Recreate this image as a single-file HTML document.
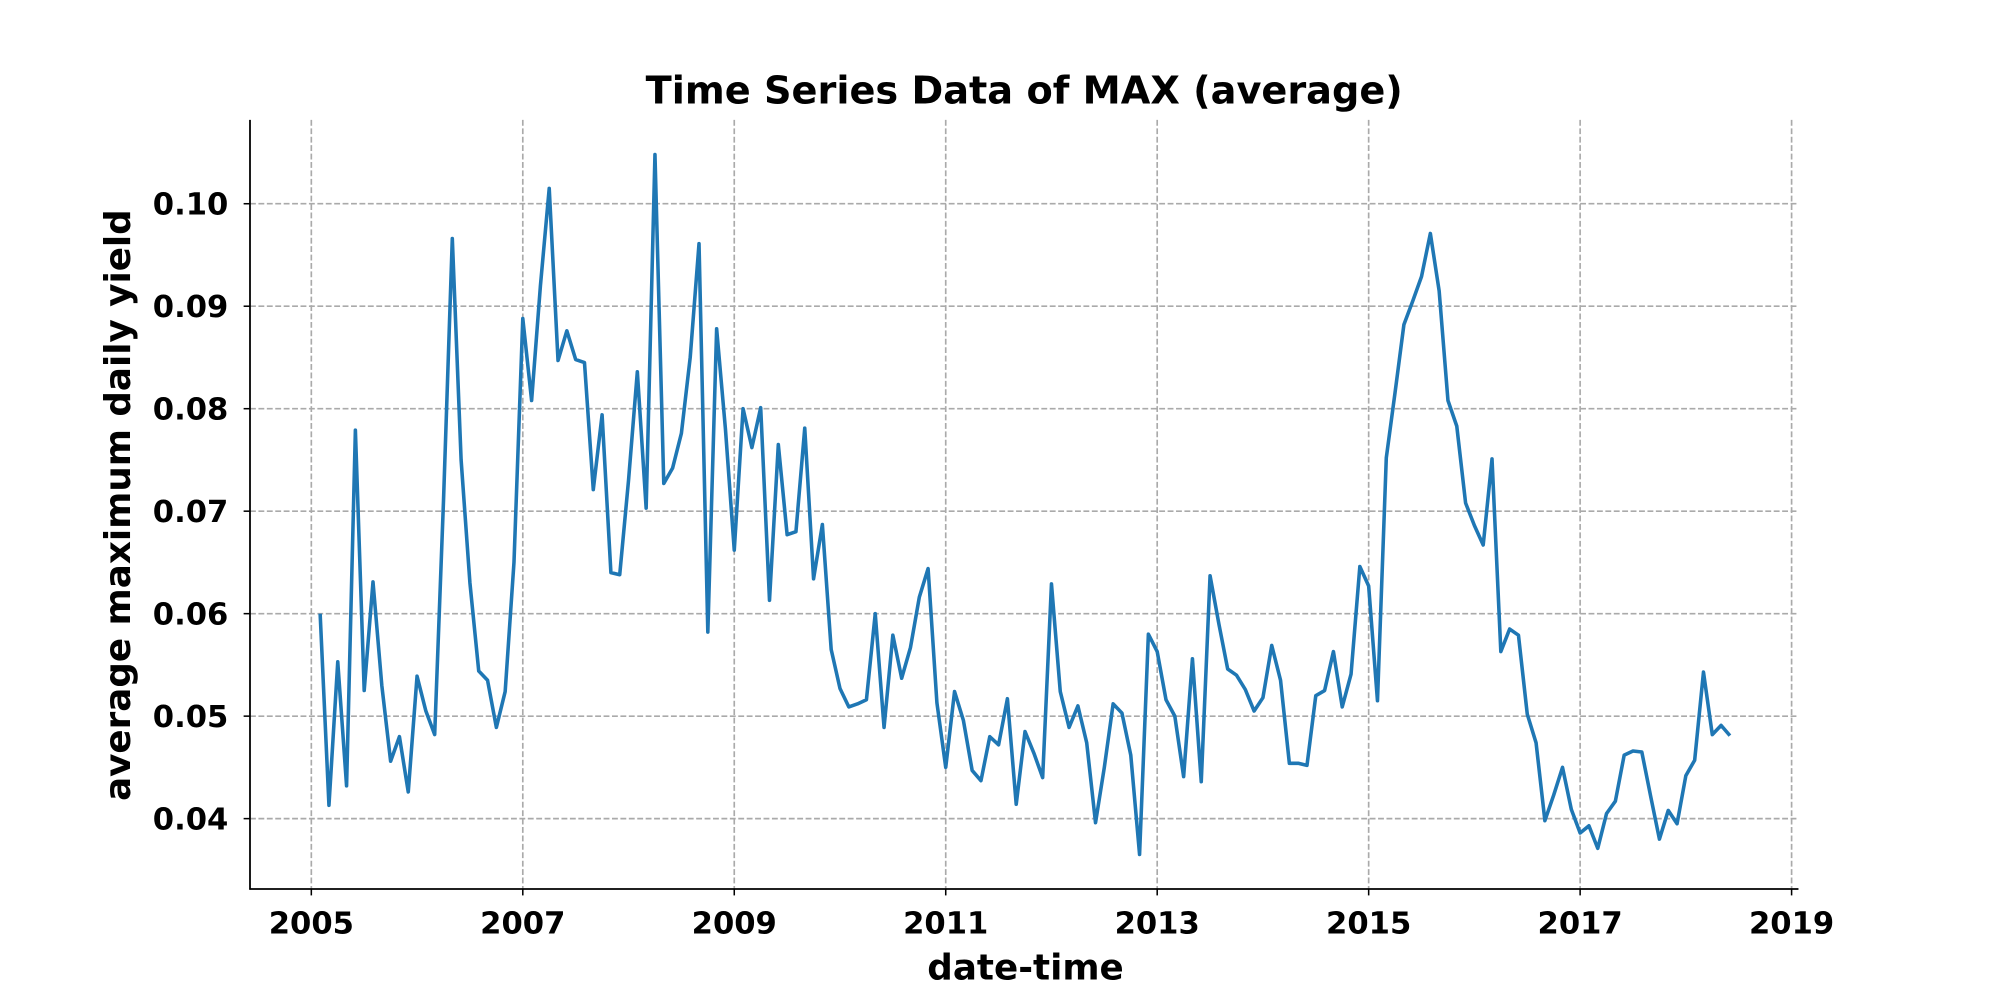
<!DOCTYPE html>
<html><head><meta charset="utf-8"><style>
html,body{margin:0;padding:0;background:#fff;}
svg{display:block;font-family:"DejaVu Sans","Liberation Sans",sans-serif;font-weight:bold;}
</style></head><body>
<svg id="chart" width="2000" height="1000" viewBox="0 0 1568 784" xmlns="http://www.w3.org/2000/svg">
<rect width="1568" height="784" fill="#fff"/>
<text x="803" y="81" text-anchor="middle" font-size="30">Time Series Data of MAX (average)</text>
<g id="grid"></g>
<g id="xticks"></g>
<g id="yticks"></g>
<path id="series" fill="none" stroke="#1f77b4" stroke-width="2.8" stroke-linejoin="round"/>
<line x1="196" y1="94" x2="196" y2="697.5" stroke="#000" stroke-width="1.4"/>
<line x1="195.5" y1="697" x2="1410" y2="697" stroke="#000" stroke-width="1.4"/>
<text x="804" y="768" text-anchor="middle" font-size="28">date-time</text>
<text transform="translate(102,396) rotate(-90)" text-anchor="middle" font-size="28">average maximum daily yield</text>
</svg>
<script>
const startYear = 2005;
const startMonth = 2;
const values = [0.0600,0.0413,0.0553,0.0432,0.0779,0.0525,0.0631,0.0530,0.0456,0.0480,0.0426,0.0539,0.0505,0.0482,0.0710,0.0966,0.0750,0.0630,0.0544,0.0535,0.0489,0.0524,0.0650,0.0888,0.0808,0.0920,0.1015,0.0847,0.0876,0.0848,0.0845,0.0721,0.0794,0.0640,0.0638,0.0730,0.0836,0.0703,0.1048,0.0727,0.0742,0.0776,0.0850,0.0961,0.0582,0.0878,0.0780,0.0662,0.0800,0.0762,0.0801,0.0613,0.0765,0.0677,0.0680,0.0781,0.0634,0.0687,0.0565,0.0527,0.0509,0.0512,0.0516,0.0600,0.0489,0.0579,0.0537,0.0567,0.0616,0.0644,0.0513,0.0450,0.0524,0.0496,0.0447,0.0437,0.0480,0.0472,0.0517,0.0414,0.0485,0.0464,0.0440,0.0629,0.0524,0.0489,0.0510,0.0474,0.0396,0.0450,0.0512,0.0503,0.0462,0.0365,0.0580,0.0563,0.0516,0.0500,0.0441,0.0556,0.0436,0.0637,0.0590,0.0546,0.0540,0.0526,0.0505,0.0518,0.0569,0.0535,0.0454,0.0454,0.0452,0.0520,0.0525,0.0563,0.0509,0.0541,0.0646,0.0627,0.0515,0.0752,0.0816,0.0882,0.0905,0.0929,0.0971,0.0915,0.0808,0.0783,0.0708,0.0686,0.0667,0.0751,0.0563,0.0585,0.0579,0.0502,0.0474,0.0398,0.0423,0.0450,0.0409,0.0386,0.0393,0.0371,0.0405,0.0417,0.0462,0.0466,0.0465,0.0422,0.0380,0.0408,0.0395,0.0442,0.0457,0.0543,0.0482,0.0491,0.0481];
const xTickYears = [2005,2007,2009,2011,2013,2015,2017,2019];
const yTickValues = [0.04,0.05,0.06,0.07,0.08,0.09,0.10];
const yTickLabels = ["0.04","0.05","0.06","0.07","0.08","0.09","0.10"];

const X0=196, X1=1410, Y0=94, Y1=697;
const xMin=2004.42, xMax=2019.065, yMin=0.03313, yMax=0.10818;
const xs = t => X0 + (t - xMin)/(xMax - xMin)*(X1 - X0);
const ys = v => Y1 - (v - yMin)/(yMax - yMin)*(Y1 - Y0);
const NS="http://www.w3.org/2000/svg";
const grid=document.getElementById('grid'), xt=document.getElementById('xticks'), yt=document.getElementById('yticks');
function mk(tag, attrs, parent){const e=document.createElementNS(NS,tag);for(const k in attrs)e.setAttribute(k,attrs[k]);parent.appendChild(e);return e;}

xTickYears.forEach((yr,i)=>{
  const x=xs(yr);
  const g=mk('line',{x1:x,y1:Y0,x2:x,y2:Y1,stroke:'#aaaaaa','stroke-width':1.3,'stroke-dasharray':'4.6,2'},grid);
  
  
  const t=mk('line',{x1:x,y1:Y1,x2:x,y2:Y1+5,stroke:'#000','stroke-width':1.2},xt);
  
  
  const l=mk('text',{x:x,y:Y1+35,'text-anchor':'middle','font-size':24},xt);
  l.textContent=String(yr);
  
  
});
yTickValues.forEach((v,i)=>{
  const y=ys(v);
  const g=mk('line',{x1:X0,y1:y,x2:X1,y2:y,stroke:'#aaaaaa','stroke-width':1.3,'stroke-dasharray':'4.6,2'},grid);
  
  
  const t=mk('line',{x1:X0-5,y1:y,x2:X0,y2:y,stroke:'#000','stroke-width':1.2},yt);
  
  
  const l=mk('text',{x:X0-17,y:y+8.5,'text-anchor':'end','font-size':24},yt);
  l.textContent=yTickLabels[i];
  
  
});
let d='';
values.forEach((v,i)=>{
  const t=startYear+(startMonth-1+i)/12;
  d+=(i?'L':'M')+xs(t).toFixed(2)+','+ys(v).toFixed(2);
});
document.getElementById('series').setAttribute('d',d);
</script>
</body></html>
